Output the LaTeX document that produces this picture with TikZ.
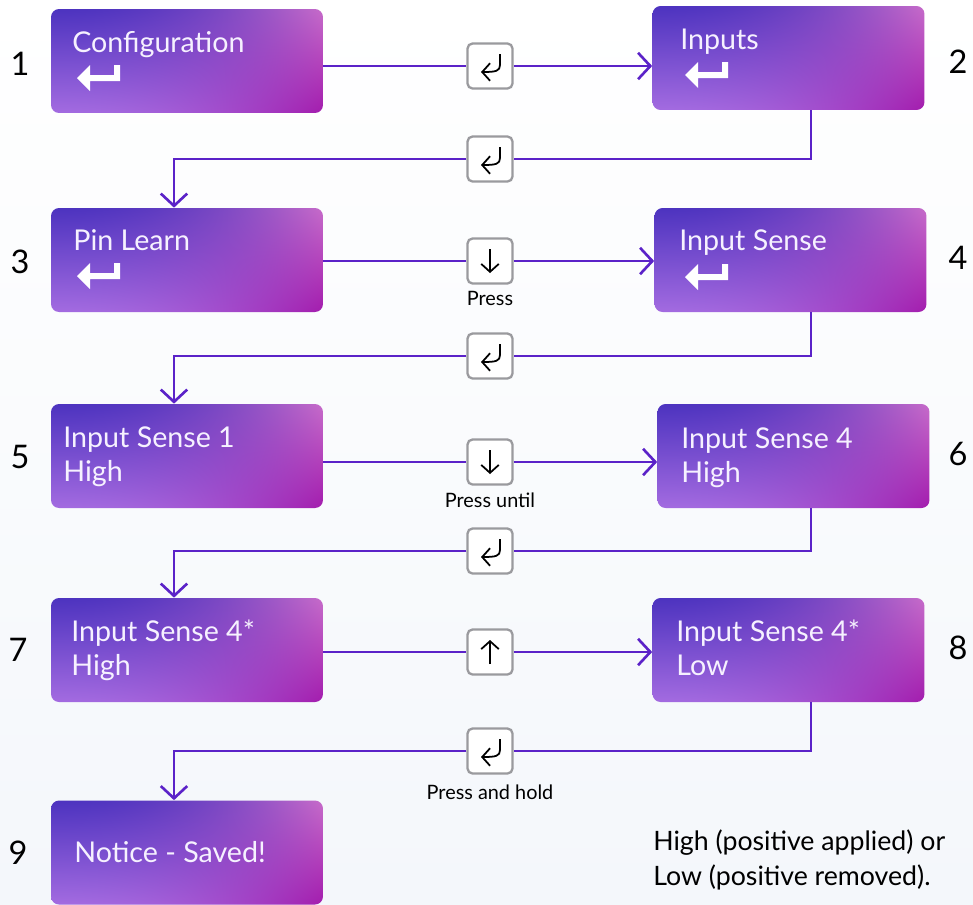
\documentclass[tikz,border=0pt]{standalone}
\usepackage{fontspec}
\setmainfont{Lato}
\usetikzlibrary{arrows.meta,calc}

\definecolor{flowline}{HTML}{5B22C8}
\definecolor{keyframe}{HTML}{9A9A9E}
\definecolor{pagebot}{HTML}{F4F7FB}
\definecolor{scrwhite}{HTML}{F6F1FF}

% blue top left, pink top right, lilac bottom left, magenta bottom right
\pgfdeclarefunctionalshading{screenglow}{\pgfpointorigin}{\pgfpoint{100bp}{100bp}}{}{
  25 sub 50 div 1 exch sub
  exch 25 sub 50 div dup mul exch
  1 index 1 index dup 0.34 mul 0.30 add exch -0.14 mul 0.78 add 1 index sub 2 index mul add exch pop
  2 index 2 index dup 0.22 mul 0.20 add exch -0.31 mul 0.42 add 1 index sub 2 index mul add exch pop
  3 index 3 index dup 0.13 mul 0.75 add exch -0.11 mul 0.79 add 1 index sub 2 index mul add exch pop
  5 3 roll pop pop
}

\tikzset{
  enterkey/.pic={\fill[white] (0,0) -- (13,-13) -- (13,-3) -- (37,-3) -- (37,-13)
      -- (43,-13) -- (43,3) -- (13,3) -- (13,13) -- cycle;},
  retglyph/.pic={\draw[glyph] (10,-12) -- (10,-1) .. controls (10,5) and (6,6) .. (-9,6);},
  downglyph/.pic={\draw[glyph] (0,-12) -- (0,12);},
  upglyph/.pic={\draw[glyph] (0,12) -- (0,-12);}
}

\begin{document}
\begin{tikzpicture}
    [ x=0.02cm, y=-0.02cm
    , screen/.style={shade, shading=screenglow, rounded corners=0.16cm,
        minimum width=5.44cm, minimum height=2.08cm, inner sep=0pt}
    , scrtext/.style={anchor=base west, text=scrwhite, inner sep=0pt,
        font=\fontsize{16.3}{19}\selectfont}
    , stepno/.style={font=\fontsize{18.5}{22}\selectfont}
    , keybox/.style={draw=keyframe, line width=1.3pt, fill=white,
        rounded corners=0.1cm, minimum size=0.9cm, inner sep=0pt}
    , flow/.style={draw=flowline, line width=1.5pt}
    , flowtip/.style={flow, -{Straight Barb[length=7pt,width=15pt]}}
    , glyph/.style={line width=1pt, -{Straight Barb[length=4.5pt,width=10pt]}}
    , presslbl/.style={font=\fontsize{11.3}{13}\selectfont}
    , notetext/.style={anchor=base west, inner sep=0pt, font=\fontsize{15.2}{18}\selectfont}
    ]
\useasboundingbox (0,0) rectangle (973,904);
\shade[top color=white, bottom color=pagebot] (0,0) rectangle (973,904);

% screens
\node[screen] (s1) at (187,61) {};
\node[screen] (s2) at (788.5,58) {};
\node[screen] (s3) at (187,260) {};
\node[screen] (s4) at (790.5,260) {};
\node[screen] (s5) at (187,456) {};
\node[screen] (s6) at (793.5,456) {};
\node[screen] (s7) at (187,650) {};
\node[screen] (s8) at (788.5,650) {};
\node[screen] (s9) at (187,852.5) {};

\node[scrtext] (t1) at (72,52) {Configuration};
\node[scrtext] (t2) at (680,49) {Inputs};
\node[scrtext] (t3) at (73,250) {Pin Learn};
\node[scrtext] (t4) at (679,250) {Input Sense};
\node[scrtext] (t5) at (63,447) {Input Sense 1};
\node[scrtext] (t5b) at (63,481) {High};
\node[scrtext] (t6) at (681,448) {Input Sense 4};
\node[scrtext] (t6b) at (681,482) {High};
\node[scrtext] (t7) at (71,641) {Input Sense 4*};
\node[scrtext] (t7b) at (71,675) {High};
\node[scrtext] (t8) at (676,641) {Input Sense 4*};
\node[scrtext] (t8b) at (676,675) {Low};
\node[scrtext] (t9) at (74,862) {Notice - Saved!};

\pic at (77,78) {enterkey};
\pic at (685,75) {enterkey};
\pic at (77,276) {enterkey};
\pic at (685,277) {enterkey};

% step numbers
\node[stepno] (n1) at (20,64) {1};
\node[stepno] (n2) at (958,62) {2};
\node[stepno] (n3) at (20,262) {3};
\node[stepno] (n4) at (958,258) {4};
\node[stepno] (n5) at (20,457) {5};
\node[stepno] (n6) at (958,454) {6};
\node[stepno] (n7) at (18,650) {7};
\node[stepno] (n8) at (958,648) {8};
\node[stepno] (n9) at (18,853) {9};

% keys
\node[keybox] (k1) at (490,66) {};
\node[keybox] (k2) at (490,159) {};
\node[keybox] (k3) at (490,261) {};
\node[keybox] (k4) at (490,356) {};
\node[keybox] (k5) at (490,462) {};
\node[keybox] (k6) at (490,551) {};
\node[keybox] (k7) at (490,652) {};
\node[keybox] (k8) at (490,751) {};
\pic at (k1) {retglyph};
\pic at (k2) {retglyph};
\pic at (k3) {downglyph};
\pic at (k4) {retglyph};
\pic at (k5) {downglyph};
\pic at (k6) {retglyph};
\pic at (k7) {upglyph};
\pic at (k8) {retglyph};

\node[presslbl] (p3) at (490,298) {Press};
\node[presslbl] (p5) at (490,500) {Press until};
\node[presslbl] (p8) at (490,792) {Press and hold};

% connectors
\coordinate (rx) at (811,0);
\coordinate (lx) at (174,0);
\draw[flow] (s1.east |- k1) -- (k1);
\draw[flowtip] (k1) -- (s2.west |- k1);
\draw[flow] (s3.east |- k3) -- (k3);
\draw[flowtip] (k3) -- (s4.west |- k3);
\draw[flow] (s5.east |- k5) -- (k5);
\draw[flowtip] (k5) -- (s6.west |- k5);
\draw[flow] (s7.east |- k7) -- (k7);
\draw[flowtip] (k7) -- (s8.west |- k7);

\draw[flow] (s2.south -| rx) |- (k2);
\draw[flowtip] (k2) -| (s3.north -| lx);
\draw[flow] (s4.south -| rx) |- (k4);
\draw[flowtip] (k4) -| (s5.north -| lx);
\draw[flow] (s6.south -| rx) |- (k6);
\draw[flowtip] (k6) -| (s7.north -| lx);
\draw[flow] (s8.south -| rx) |- (k8);
\draw[flowtip] (k8) -| (s9.north -| lx);

\node[notetext] (note1) at (653,850) {High (positive applied) or};
\node[notetext] (note2) at (653,885) {Low (positive removed).};
\end{tikzpicture}
\end{document}
